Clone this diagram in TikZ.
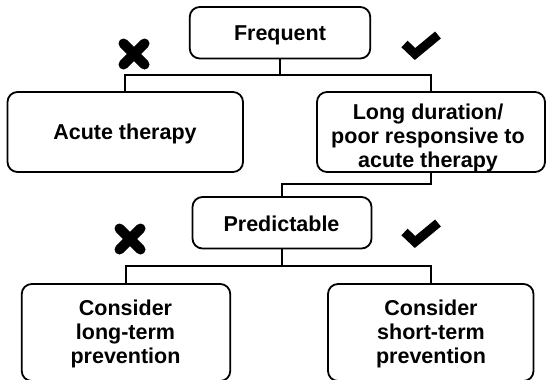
\documentclass[tikz,border=0pt]{standalone}
\usepackage{fontspec}
\setmainfont{Liberation Sans}
\begin{document}
\begin{tikzpicture}[x=1pt,y=-1pt,
  box/.style={draw, line width=1.8pt, rounded corners=10pt, fill=white, inner sep=0pt},
  txt/.style={anchor=base, align=center, inner sep=0pt, font=\fontsize{21.5}{24}\selectfont\bfseries},
  conn/.style={line width=1.8pt},
  xmark/.style={line width=10pt, line cap=round},
  vmark/.style={line width=9pt, line join=miter}]
\useasboundingbox (0,0) rectangle (547,380);
% boxes
\node[box, minimum width=180.5pt, minimum height=51.5pt] (freq) at (280,32.75) {};
\node[box, minimum width=235.5pt, minimum height=80pt] (acute) at (125.25,132) {};
\node[box, minimum width=228pt, minimum height=80pt] (long) at (431,132) {};
\node[box, minimum width=179pt, minimum height=51.5pt] (pred) at (282,222.75) {};
\node[box, minimum width=208.5pt, minimum height=97pt] (ltp) at (126,332.5) {};
\node[box, minimum width=205.5pt, minimum height=97pt] (stp) at (430.75,332.5) {};
% texts (base anchor = baseline of the last line)
\node[txt] (tfreq) at (280,40.5) {Frequent};
\node[txt] (tacute) at (125,139.5) {Acute therapy};
\node[txt] (tlong) at (428,167) {Long duration/\\poor responsive to\\acute therapy};
\node[txt] (tpred) at (281.5,231.5) {Predictable};
\node[txt] (tltp) at (125.5,363) {Consider\\long-term\\prevention};
\node[txt] (tstp) at (431,363) {Consider\\short-term\\prevention};
% connectors
\coordinate (j1) at (280,75);
\coordinate (j2) at (282,184);
\coordinate (j3) at (282,266);
\draw[conn] (freq.south) -- (j1);
\draw[conn] (acute.north) |- (j1) -| (long.north);
\draw[conn] (long.south) |- (j2) -- (pred.north);
\draw[conn] (pred.south) -- (j3);
\draw[conn] (ltp.north) |- (j3) -| (stp.north);
% marks
\draw[xmark] (123.5,43.5) -- (144.5,64.5) (144.5,43.5) -- (123.5,64.5);
\draw[xmark] (119.5,228.5) -- (140.5,249.5) (140.5,228.5) -- (119.5,249.5);
\draw[vmark] (404.5,44) -- (415,54) -- (438,35);
\draw[vmark] (404.5,232) -- (415,242) -- (438,223);
\end{tikzpicture}
\end{document}
